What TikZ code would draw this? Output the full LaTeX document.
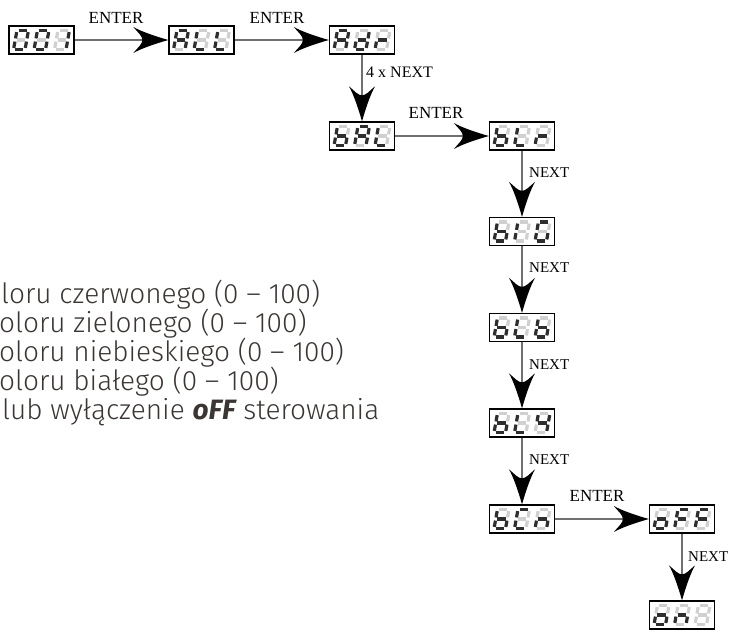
\documentclass[tikz,border=0pt]{standalone}
\usepackage{fontspec}
\setmainfont{Liberation Serif}
\newfontfamily\descfont{Fira Sans Light}
\newfontfamily\descbold{Fira Sans}
\usetikzlibrary{arrows.meta}
\definecolor{segon}{HTML}{2E2E2E}
\definecolor{segoff}{HTML}{D0D0D0}
\definecolor{linegray}{HTML}{707070}
\definecolor{desccol}{HTML}{3B3633}

\pgfdeclarearrow{
  name = FatTip,
  parameters = {},
  setup code = {
    \pgfarrowssettipend{0pt}
    \pgfarrowssetlineend{-24pt}
    \pgfarrowssetbackend{-35pt}
    \pgfarrowshullpoint{0pt}{0pt}
    \pgfarrowshullpoint{-35pt}{13pt}
    \pgfarrowshullpoint{-35pt}{-13pt}
  },
  drawing code = {
    \pgfpathmoveto{\pgfqpoint{0pt}{0pt}}
    \pgfpathcurveto{\pgfqpoint{-14pt}{4pt}}{\pgfqpoint{-27pt}{8.5pt}}{\pgfqpoint{-35pt}{13pt}}
    \pgfpathcurveto{\pgfqpoint{-30pt}{7pt}}{\pgfqpoint{-26pt}{4pt}}{\pgfqpoint{-26pt}{0pt}}
    \pgfpathcurveto{\pgfqpoint{-26pt}{-4pt}}{\pgfqpoint{-30pt}{-7pt}}{\pgfqpoint{-35pt}{-13pt}}
    \pgfpathcurveto{\pgfqpoint{-27pt}{-8.5pt}}{\pgfqpoint{-14pt}{-4pt}}{\pgfqpoint{0pt}{0pt}}
    \pgfpathclose
    \pgfusepathqfill
  }
}

% segment codes abcdefg
\def\sgZero{1111110}
\def\sgOne{0110000}
\def\sgA{1110111}
\def\sgL{0001110}
\def\sgd{0111101}
\def\sgr{0000101}
\def\sgb{0011111}
\def\sgI{0000110}
\def\sgG{1011110}
\def\sgY{0110011}
\def\sgC{1001110}
\def\sgn{0010101}
\def\sgo{0011101}
\def\sgF{1000111}
\def\sgBlank{0000000}

\tikzset{
  segonst/.style={draw=segon, line width=3.2pt, shorten <=1.6pt, shorten >=1.6pt},
  segoffst/.style={draw=segoff, line width=3.2pt, shorten <=1.6pt, shorten >=1.6pt},
  dispbox/.style={draw=black, line width=1.3pt, fill=white, minimum width=65pt, minimum height=28pt, inner sep=0pt},
  conn/.style={draw=linegray, line width=1.4pt, -{FatTip[color=black]}},
  lbl/.style={font=\fontsize{17}{19}\selectfont, inner sep=0pt, text=black},
  lbln/.style={font=\fontsize{15}{17}\selectfont, inner sep=0pt, text=black, anchor=west},
  desc/.style={font=\descfont\fontsize{28}{29}\selectfont, text=desccol, inner sep=0pt, anchor=base west},
}

\def\segdraw#1#2#3{\ifnum#1=1 \draw[segonst] #2 -- #3;\else\draw[segoffst] #2 -- #3;\fi}
\def\drawdigit#1#2#3#4#5#6#7{%
  \segdraw{#1}{(0,0)}{(11.5,0)}%
  \segdraw{#2}{(11.5,0)}{(11.5,9.5)}%
  \segdraw{#3}{(11.5,9.5)}{(11.5,19)}%
  \segdraw{#4}{(0,19)}{(11.5,19)}%
  \segdraw{#5}{(0,9.5)}{(0,19)}%
  \segdraw{#6}{(0,0)}{(0,9.5)}%
  \segdraw{#7}{(0,9.5)}{(11.5,9.5)}%
}
\newcommand\segdigit[3]{\begin{scope}[shift={(#1,#2)},xslant=0.18]\expandafter\drawdigit#3\end{scope}}
\newcommand\display[6]{%
  \node[dispbox] (#1) at (#2,#3) {};
  \segdigit{#2-24.55}{#3-9.5}{#4}
  \segdigit{#2-4.05}{#3-9.5}{#5}
  \segdigit{#2+16.45}{#3-9.5}{#6}
}

\begin{document}
\begin{tikzpicture}[x=1pt,y=-1pt]
\useasboundingbox (0,0) rectangle (730,632);

% displays
\display{d001}{41.5}{40}{\sgZero}{\sgZero}{\sgOne}
\display{dALL}{201.5}{40}{\sgA}{\sgL}{\sgL}
\display{dAdr}{362}{40}{\sgA}{\sgd}{\sgr}
\display{dbAL}{362}{136}{\sgb}{\sgA}{\sgL}
\display{dbLr}{522}{136}{\sgb}{\sgL}{\sgr}
\display{dbIG}{522}{231.5}{\sgb}{\sgI}{\sgG}
\display{dbLb}{522}{327.5}{\sgb}{\sgL}{\sgb}
\display{dbLY}{522}{423}{\sgb}{\sgL}{\sgY}
\display{dbCn}{522}{519}{\sgb}{\sgC}{\sgn}
\display{doFF}{682}{519}{\sgo}{\sgF}{\sgF}
\display{don8}{682}{615}{\sgo}{\sgn}{\sgBlank}

% connectors
\draw[conn] (d001) -- (dALL);
\draw[conn] (dALL) -- (dAdr);
\draw[conn] (dAdr) -- (dbAL);
\draw[conn] (dbAL) -- (dbLr);
\draw[conn] (dbLr) -- (dbIG);
\draw[conn] (dbIG) -- (dbLb);
\draw[conn] (dbLb) -- (dbLY);
\draw[conn] (dbLY) -- (dbCn);
\draw[conn] (dbCn) -- (doFF);
\draw[conn] (doFF) -- (don8);

% labels
\node[lbl] (t1) at (116,18) {ENTER};
\node[lbl] (t2) at (277,18) {ENTER};
\node[lbln,font=\fontsize{16}{18}\selectfont] (t3) at (366,72) {4 x NEXT};
\node[lbl] (t4) at (436,113) {ENTER};
\node[lbln] (t5) at (529,173) {NEXT};
\node[lbln] (t6) at (529,268) {NEXT};
\node[lbln] (t7) at (529,365) {NEXT};
\node[lbln] (t8) at (529,460) {NEXT};
\node[lbl] (t9) at (597,496) {ENTER};
\node[lbln] (t10) at (688,557) {NEXT};

% description text
\node[desc] (x1) at (1,303) {loru czerwonego (0 – 100)};
\node[desc] (x2) at (-1,332) {oloru zielonego (0 – 100)};
\node[desc] (x3) at (-1,361) {oloru niebieskiego (0 – 100)};
\node[desc] (x4) at (-1,390) {oloru białego (0 – 100)};
\node[desc] (x5) at (2,419) {lub wyłączenie {\descbold\bfseries\itshape oFF} sterowania};
\end{tikzpicture}
\end{document}
